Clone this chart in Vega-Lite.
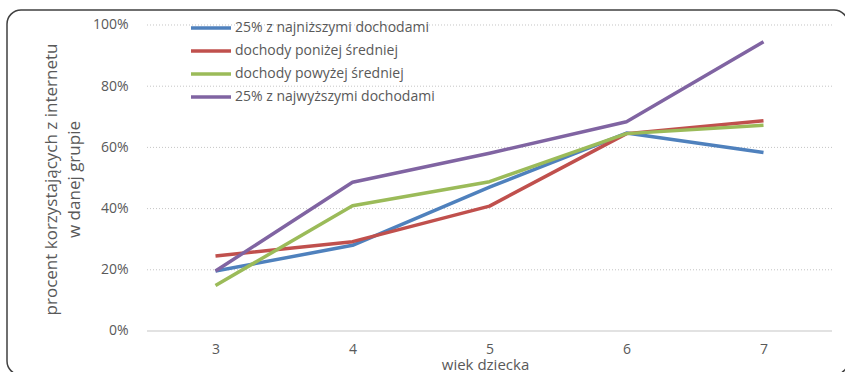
{
  "$schema": "https://vega.github.io/schema/vega-lite/v6.json",
  "width": 841,
  "height": 365,
  "autosize": {"type": "none"},
  "padding": {"left": 7, "top": 10, "right": -3, "bottom": -3},
  "background": "white",
  "config": {
    "font": "Open Sans",
    "view": {"stroke": "#404040", "strokeWidth": 1.5, "cornerRadius": 14},
    "axis": {
      "labelFont": "Open Sans",
      "labelFontSize": 14,
      "labelColor": "#595959",
      "titleFont": "Open Sans",
      "titleFontSize": 15,
      "titleFontWeight": "normal",
      "titleColor": "#595959",
      "domain": false,
      "ticks": false,
      "grid": false
    }
  },
  "datasets": {
    "usage": [
      {"age": 3, "group": "25% z najniższymi dochodami", "share": 0.196},
      {"age": 4, "group": "25% z najniższymi dochodami", "share": 0.280},
      {"age": 5, "group": "25% z najniższymi dochodami", "share": 0.470},
      {"age": 6, "group": "25% z najniższymi dochodami", "share": 0.647},
      {"age": 7, "group": "25% z najniższymi dochodami", "share": 0.583},
      {"age": 3, "group": "dochody poniżej średniej", "share": 0.245},
      {"age": 4, "group": "dochody poniżej średniej", "share": 0.292},
      {"age": 5, "group": "dochody poniżej średniej", "share": 0.408},
      {"age": 6, "group": "dochody poniżej średniej", "share": 0.645},
      {"age": 7, "group": "dochody poniżej średniej", "share": 0.687},
      {"age": 3, "group": "dochody powyżej średniej", "share": 0.149},
      {"age": 4, "group": "dochody powyżej średniej", "share": 0.409},
      {"age": 5, "group": "dochody powyżej średniej", "share": 0.488},
      {"age": 6, "group": "dochody powyżej średniej", "share": 0.645},
      {"age": 7, "group": "dochody powyżej średniej", "share": 0.672},
      {"age": 3, "group": "25% z najwyższymi dochodami", "share": 0.196},
      {"age": 4, "group": "25% z najwyższymi dochodami", "share": 0.486},
      {"age": 5, "group": "25% z najwyższymi dochodami", "share": 0.581},
      {"age": 6, "group": "25% z najwyższymi dochodami", "share": 0.684},
      {"age": 7, "group": "25% z najwyższymi dochodami", "share": 0.945}
    ],
    "gridlines": [
      {"level": 0.2},
      {"level": 0.4},
      {"level": 0.6},
      {"level": 0.8},
      {"level": 1.0}
    ]
  },
  "resolve": {"axis": {"x": "independent", "y": "independent"}},
  "layer": [
    {
      "data": {"name": "gridlines"},
      "mark": {"type": "rule", "color": "#c4c4c4", "strokeWidth": 1, "strokeDash": [1, 2]},
      "encoding": {
        "y": {"field": "level", "type": "quantitative", "axis": null,
              "scale": {"domain": [-0.1438, 1.049], "nice": false, "zero": false}},
        "x": {"datum": 2.5, "type": "quantitative", "axis": null,
              "scale": {"domain": [1.4781, 7.6168], "nice": false, "zero": false}},
        "x2": {"datum": 7.5}
      }
    },
    {
      "data": {"values": [{}]},
      "mark": {"type": "rule", "color": "#d9d9d9", "strokeWidth": 1.5},
      "encoding": {
        "y": {"datum": 0, "type": "quantitative", "axis": null},
        "x": {"datum": 2.5, "type": "quantitative", "axis": null},
        "x2": {"datum": 7.5}
      }
    },
    {
      "data": {"name": "usage"},
      "mark": {"type": "line", "strokeWidth": 3.5, "strokeJoin": "round"},
      "encoding": {
        "x": {
          "field": "age",
          "type": "quantitative",
          "scale": {"domain": [1.4781, 7.6168], "nice": false, "zero": false},
          "axis": {
            "values": [3, 4, 5, 6, 7],
            "format": "d",
            "offset": -44,
            "labelPadding": 11,
            "title": "wiek dziecka",
            "titleX": 478,
            "titleY": 38,
            "titleAlign": "center",
            "titleBaseline": "alphabetic"
          }
        },
        "y": {
          "field": "share",
          "type": "quantitative",
          "scale": {"domain": [-0.1438, 1.049], "nice": false, "zero": false},
          "axis": {
            "values": [0, 0.2, 0.4, 0.6, 0.8, 1],
            "format": ".0%",
            "offset": -123,
            "labelPadding": 2,
            "title": ["procent korzystających z internetu", "w danej grupie"],
            "titleFontSize": 17,
            "titleX": -79,
            "titleY": 169,
            "titleAngle": -90,
            "titleAlign": "center",
            "titleBaseline": "middle",
            "titleLineHeight": 23
          }
        },
        "color": {
          "field": "group",
          "type": "nominal",
          "scale": {
            "domain": ["25% z najniższymi dochodami", "dochody poniżej średniej", "dochody powyżej średniej", "25% z najwyższymi dochodami"],
            "range": ["#4F81BD", "#C0504D", "#9BBB59", "#8064A2"]
          },
          "legend": {
            "orient": "none",
            "legendX": 182,
            "legendY": 10,
            "title": null,
            "symbolType": "stroke",
            "symbolSize": 1600,
            "symbolStrokeWidth": 3.5,
            "clipHeight": 16,
            "rowPadding": 7,
            "labelOffset": 2,
            "labelLimit": 400,
            "labelFont": "Open Sans",
            "labelFontSize": 14,
            "labelColor": "#595959",
            "padding": 0
          }
        }
      }
    }
  ]
}
